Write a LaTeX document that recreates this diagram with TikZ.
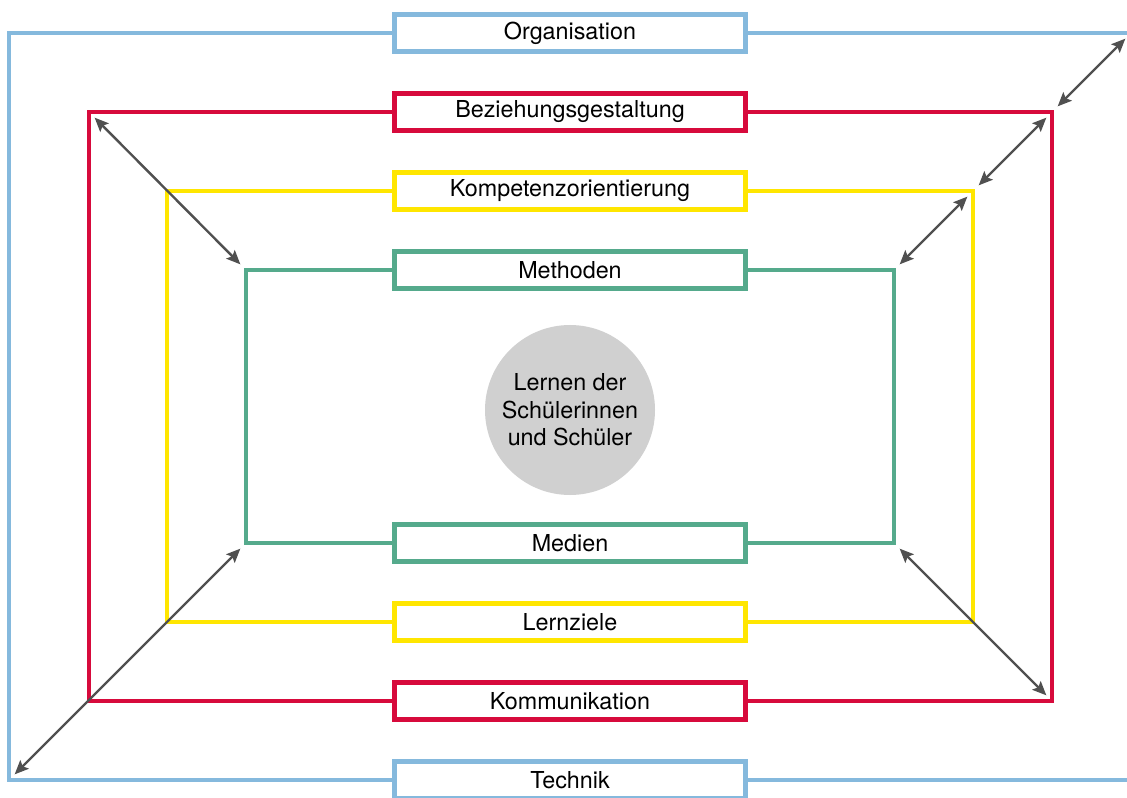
\documentclass[tikz,border=0pt]{standalone}
\usepackage{fontspec}
\setmainfont{TeX Gyre Heros}
\usetikzlibrary{arrows.meta, calc}
\definecolor{orgblue}{RGB}{133,185,221}
\definecolor{bezred}{RGB}{215,10,60}
\definecolor{kompyellow}{RGB}{255,230,0}
\definecolor{methgreen}{RGB}{85,170,140}
\definecolor{kerngray}{RGB}{208,208,208}
\definecolor{pfeilgray}{RGB}{80,80,80}
\tikzset{
    ebene/.style={ % Label boxes sitting on the frames
    draw=#1,
    line width=3.4pt,
    fill=white,
    minimum width=263pt,
    minimum height=28pt,
    inner sep=0pt},
    rahmen/.style={ % The frame lines
    draw=#1,
    line width=3.4pt},
    kern/.style={ % Centre circle
    circle,
    fill=kerngray,
    minimum size=127.5pt,
    inner sep=0pt,
    align=center},
    pfeil/.style={ % Double arrows between the frame corners
    draw=pfeilgray,
    line width=1.8pt,
    {Stealth[length=10.5pt,width=9pt,inset=2pt]}-{Stealth[length=10.5pt,width=9pt,inset=2pt]},
    shorten <=6pt,
    shorten >=6pt}}

\begin{document}
\begin{tikzpicture}[x=0.75pt, y=-0.75pt, font=\fontsize{17.5}{20.5}\selectfont]
    \useasboundingbox (0,0) rectangle (1127,798);
    \clip (0,0) rectangle (1127,798);

    % Frame corners
    \coordinate (btl) at (9,33);    \coordinate (btr) at (1131,33);
    \coordinate (bbl) at (9,780);   \coordinate (bbr) at (1131,780);
    \coordinate (rtl) at (89,112);  \coordinate (rtr) at (1052,112);
    \coordinate (rbl) at (89,701);  \coordinate (rbr) at (1052,701);
    \coordinate (ytl) at (167,191); \coordinate (ytr) at (973,191);
    \coordinate (ybl) at (167,622); \coordinate (ybr) at (973,622);
    \coordinate (gtl) at (246,270); \coordinate (gtr) at (894,270);
    \coordinate (gbl) at (246,543); \coordinate (gbr) at (894,543);

    % Labels on the frames
    \node[ebene=orgblue] (org) at (570,33) {Organisation};
    \node[ebene=bezred] (bez) at (570,112) {Beziehungsgestaltung};
    \node[ebene=kompyellow] (komp) at (570,191) {Kompetenzorientierung};
    \node[ebene=methgreen] (meth) at (570,270) {Methoden};
    \node[ebene=methgreen] (med) at (570,543) {Medien};
    \node[ebene=kompyellow] (ziele) at (570,622) {Lernziele};
    \node[ebene=bezred] (komm) at (570,701) {Kommunikation};
    \node[ebene=orgblue] (tech) at (570,780) {Technik};

    % Frames
    \draw[rahmen=orgblue] (org.west) -- (btl) -- (bbl) -- (tech.west);
    \draw[rahmen=orgblue] (org.east) -- (btr) -- (bbr) -- (tech.east);
    \draw[rahmen=bezred] (bez.west) -- (rtl) -- (rbl) -- (komm.west);
    \draw[rahmen=bezred] (bez.east) -- (rtr) -- (rbr) -- (komm.east);
    \draw[rahmen=kompyellow] (komp.west) -- (ytl) -- (ybl) -- (ziele.west);
    \draw[rahmen=kompyellow] (komp.east) -- (ytr) -- (ybr) -- (ziele.east);
    \draw[rahmen=methgreen] (meth.west) -- (gtl) -- (gbl) -- (med.west);
    \draw[rahmen=methgreen] (meth.east) -- (gtr) -- (gbr) -- (med.east);

    % Centre
    \node[kern] (lernen) at (570,410) {Lernen der\\Schülerinnen\\und Schüler};

    % Arrows
    \draw[pfeil] (rtl) -- (gtl);
    \draw[pfeil] (gbl) -- (bbl);
    \draw[pfeil] (gtr) -- (ytr);
    \draw[pfeil] (ytr) -- (rtr);
    \draw[pfeil] (rtr) -- (btr);
    \draw[pfeil] (gbr) -- (rbr);
\end{tikzpicture}
\end{document}
